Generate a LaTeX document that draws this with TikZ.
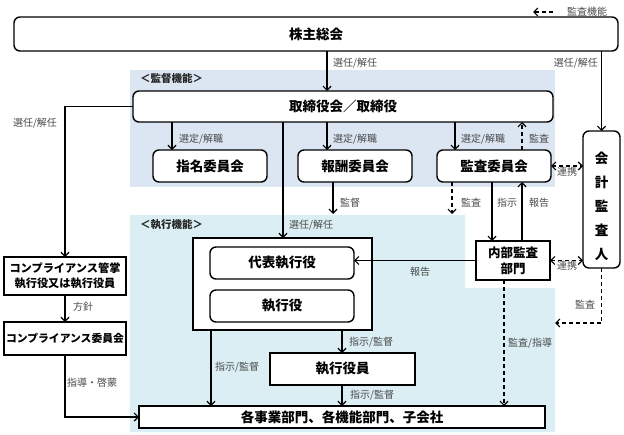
\documentclass[tikz,border=0pt]{standalone}
\usepackage{fontspec}
\setmainfont{Noto Sans CJK JP}
\usetikzlibrary{arrows.meta,calc}
\definecolor{supbg}{HTML}{DCE6F2}
\definecolor{exbg}{HTML}{DAEEF3}
\definecolor{lbl}{HTML}{4A4A4A}
\begin{document}
\begin{tikzpicture}[x=1pt,y=-1pt,
  box/.style={draw=black, line width=1.4pt, fill=white, inner sep=0pt, outer sep=0pt,
    font=\fontsize{13.5}{16}\selectfont\bfseries, align=center, anchor=north west},
  rbox/.style={box, rounded corners=6pt},
  lab/.style={text=lbl, font=\fontsize{10}{12}\selectfont, inner sep=0pt},
  lbw/.style={lab, anchor=west},
  reg/.style={font=\fontsize{10.5}{12}\selectfont\bfseries, text=black!85, inner sep=0pt, anchor=west},
  tip/.tip={Straight Barb[length=4pt,width=8pt]},
  arr/.style={line width=1.2pt, -tip},
  darr/.style={arr, dash pattern=on 4pt off 3pt},
  ddarr/.style={line width=1.2pt, dash pattern=on 4pt off 3pt, tip-tip},
  ln/.style={line width=1.2pt}]
\useasboundingbox (0,0) rectangle (624,434);

% background regions
\fill[supbg] (130,70) rectangle (555,187);
\fill[exbg] (130,215) -- (465,215) -- (465,288) -- (555,288) -- (555,432) -- (130,432) -- cycle;
\node[reg] (supl) at (140,78) {＜監督機能＞};
\node[reg] (exel) at (140,225) {＜執行機能＞};

% column coordinates
\coordinate (c172) at (172,0);
\coordinate (c210) at (211,0);
\coordinate (c283) at (283,0);
\coordinate (c327) at (327,0);
\coordinate (c333) at (333,0);
\coordinate (c342) at (342,0);
\coordinate (c452) at (452,0);
\coordinate (c455) at (455,0);
\coordinate (c492) at (492,0);
\coordinate (c504) at (504,0);
\coordinate (c522) at (522,0);
\coordinate (remEnd) at (333,214);
\coordinate (audEnd) at (452,214);
\coordinate (caEnd) at (555,323);

% nodes
\node[rbox, minimum width=604pt, minimum height=34pt] (sh) at (14,17) {株主総会};
\node[rbox, minimum width=420pt, minimum height=31pt] (board) at (133,91) {取締役会／取締役};
\node[rbox, minimum width=114pt, minimum height=32pt] (nom) at (153,150) {指名委員会};
\node[rbox, minimum width=114pt, minimum height=32pt] (rem) at (298,150) {報酬委員会};
\node[rbox, minimum width=114pt, minimum height=32pt] (audc) at (437,150) {監査委員会};
\node[rbox, minimum width=37pt, minimum height=137pt] (ca) at (583,131) {};
\node[font=\fontsize{13.5}{24}\selectfont\bfseries, align=center, inner sep=0pt] (catext) at (601.5,206) {会\\計\\監\\査\\人};
\node[box, minimum width=74pt, minimum height=39pt, font=\fontsize{12.5}{16}\selectfont\bfseries] (ia) at (476,241) {内部監査\\部門};
\node[box, minimum width=179pt, minimum height=92pt] (grp) at (193,238) {};
\node[rbox, minimum width=144pt, minimum height=32pt] (rep) at (210,247) {代表執行役};
\node[rbox, minimum width=144pt, minimum height=32pt] (exe) at (210,290) {執行役};
\node[box, minimum width=145pt, minimum height=32pt] (eo) at (270,353) {執行役員};
\node[box, minimum width=406pt, minimum height=22pt] (bot) at (139,406) {各事業部門、各機能部門、子会社};
\node[box, minimum width=122pt, minimum height=38pt, font=\fontsize{11.2}{15}\selectfont\bfseries] (comp1) at (4,257) {コンプライアンス管掌\\執行役又は執行役員};
\node[box, minimum width=122pt, minimum height=33pt, font=\fontsize{10.8}{14}\selectfont\bfseries] (comp2) at (4,322) {コンプライアンス委員会};

% legend
\coordinate (lgA) at (553,12);
\coordinate (lgB) at (533,12);
\draw[darr] (lgA) -- (lgB);
\node[lbw] (lgt) at (567,12) {監査機能};

% connectors
\draw[arr] (sh.south -| c327) -- (board.north -| c327);
\node[lbw] (l1) at (333,63) {選任/解任};
\draw[arr] (sh.south -| ca.north) -- (ca.north);
\node[lab, anchor=east] (l2) at (598,63) {選任/解任};

\draw[arr] (board.west) -| (comp1.north);
\node[lab] (l3) at (35,123) {選任/解任};

\draw[arr] (board.south -| c172) -- (nom.north -| c172);
\node[lbw] (l4) at (179,139) {選定/解職};
\draw[arr] (board.south -| c327) -- (rem.north -| c327);
\node[lbw] (l5) at (333,139) {選定/解職};
\draw[arr] (board.south -| c455) -- (audc.north -| c455);
\node[lbw] (l6) at (461,139) {選定/解職};
\draw[darr] (audc.north -| c522) -- (board.south -| c522);
\node[lbw] (l7) at (529,139) {監査};

\draw[ddarr] (audc.east) -- (audc.east -| ca.west);
\node[lab] (l8) at (567,172) {連携};

\draw[arr] (rem.south -| c333) -- (remEnd);
\node[lbw] (l9) at (340,203) {監督};
\draw[darr] (audc.south -| c452) -- (audEnd);
\node[lbw] (l10) at (461,203) {監査};
\draw[arr] (audc.south -| c492) -- (ia.north -| c492);
\node[lbw] (l11) at (497,203) {指示};
\draw[arr] (ia.north -| c522) -- (audc.south -| c522);
\node[lbw] (l12) at (529,203) {報告};

\draw[ddarr] (ia.east) -- (ia.east -| ca.west);
\node[lab] (l13) at (567,266) {連携};
\draw[darr] (ca.south) |- (caEnd);
\node[lab] (l14) at (585,305) {監査};

\draw[arr] (ia.west) -- (ia.west -| rep.east);
\node[lab] (l15) at (420,272) {報告};

\draw[arr] (board.south -| c283) -- (grp.north -| c283);
\node[lbw] (l16) at (289,225) {選任/解任};

\draw[arr] (grp.south -| c342) -- (eo.north -| c342);
\node[lbw] (l17) at (349,342) {指示/監督};
\draw[arr] (eo.south -| c342) -- (bot.north -| c342);
\node[lbw] (l18) at (350,395) {指示/監督};
\draw[arr] (grp.south -| c210) -- (bot.north -| c210);
\node[lbw] (l19) at (215,367) {指示/監督};
\draw[darr] (ia.south -| c504) -- (bot.north -| c504);
\node[lbw] (l20) at (508,343) {監査/指導};

\draw[arr] (comp1.south) -- (comp2.north);
\node[lbw] (l21) at (73,307) {方針};
\draw[arr] (comp2.south) |- (bot.west);
\node[lbw] (l22) at (67,383) {指導・啓蒙};
\end{tikzpicture}
\end{document}
